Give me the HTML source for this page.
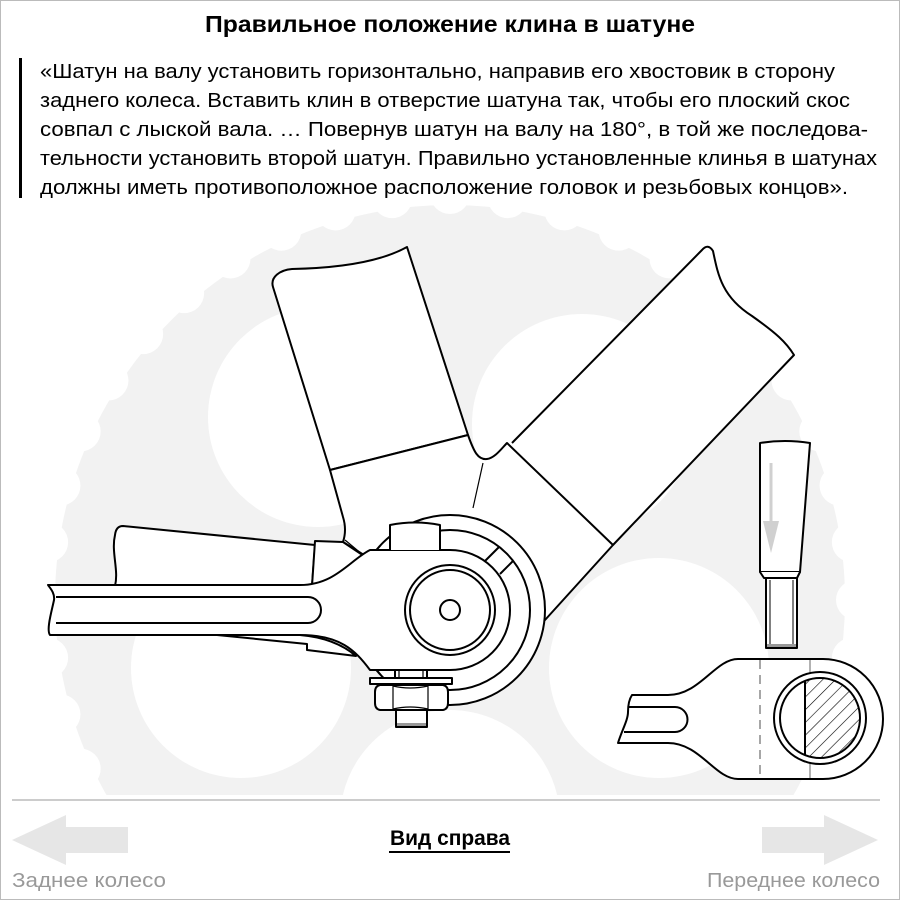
<!DOCTYPE html>
<html><head><meta charset="utf-8"><style>
html,body{margin:0;padding:0;background:#fff;width:900px;height:900px;overflow:hidden}
svg{display:block}
text{font-family:"Liberation Sans","DejaVu Sans",sans-serif}
</style></head><body>
<svg width="900" height="900" viewBox="0 0 900 900" xmlns="http://www.w3.org/2000/svg">
<defs>
<clipPath id="cl"><rect x="0" y="200" width="900" height="595"/></clipPath>
<clipPath id="hc"><rect x="805" y="670" width="80" height="100"/></clipPath>
<pattern id="hatch" patternUnits="userSpaceOnUse" width="9" height="9" patternTransform="rotate(45)">
<line x1="0" y1="0" x2="0" y2="9" stroke="#000" stroke-width="1.2"/></pattern>
</defs>
<rect x="0.5" y="0.5" width="899" height="899" fill="#fff" stroke="#bbb"/>

<!-- sprocket -->
<g clip-path="url(#cl)">
<circle cx="450" cy="600" r="395" fill="#f2f2f2"/>
<circle cx="450" cy="600" r="406" fill="none" stroke="#fff" stroke-width="40" stroke-linecap="round" stroke-dasharray="0 57.97"/>
<circle cx="318" cy="417" r="110" fill="#fff"/>
<circle cx="582" cy="424" r="110" fill="#fff"/>
<circle cx="659" cy="668" r="110" fill="#fff"/>
<circle cx="241" cy="668" r="110" fill="#fff"/>
<circle cx="450" cy="820" r="110" fill="#fff"/>
</g>

<!-- text -->
<text x="450" y="32" text-anchor="middle" font-size="23" font-weight="bold" textLength="490" lengthAdjust="spacingAndGlyphs">Правильное положение клина в шатуне</text>
<rect x="19" y="58" width="3" height="140" fill="#000"/>
<g font-size="20.5">
<text x="40" y="78" textLength="795" lengthAdjust="spacingAndGlyphs">«Шатун на валу установить горизонтально, направив его хвостовик в сторону</text>
<text x="40" y="107" textLength="810" lengthAdjust="spacingAndGlyphs">заднего колеса. Вставить клин в отверстие шатуна так, чтобы его плоский скос</text>
<text x="40" y="136" textLength="828" lengthAdjust="spacingAndGlyphs">совпал с лыской вала. … Повернув шатун на валу на 180°, в той же последова-</text>
<text x="40" y="165" textLength="837" lengthAdjust="spacingAndGlyphs">тельности установить второй шатун. Правильно установленные клинья в шатунах</text>
<text x="40" y="194" textLength="808" lengthAdjust="spacingAndGlyphs">должны иметь противоположное расположение головок и резьбовых концов».</text>
</g>

<g fill="#fff" stroke="#000" stroke-width="2" stroke-linejoin="round">
<!-- chainstay -->
<path d="M123,526 L315,545 L312,586 L115,586 C119,570 111,552 115,535 Q116,526 123,526 Z"/>
<!-- seat tube -->
<path d="M273,287 C270,277 280,270 292,269 C340,268 380,262 407,247 L468,435 L330,470 Z"/>
<!-- down tube -->
<path d="M613,545 L794,355 C786,342 776,333 752,316 C722,297 718,275 713,251 Q708,243 702,250 L512,443"/>
<!-- lugs -->
<path d="M330,470 L468,435 C474,452 478,460 487,459 C495,458 502,448 507,443 L613,545 L545,620 L450,640 L372,560 L343,542 Q347,530 343,517 Z"/>
<path d="M315,541 L343,542 L370,560 L340,588 L312,586 Z"/>
<path d="M217,635 L307,644 L307,650 L356,656 Q335,638 300,635 Z"/>
<!-- bottom bracket rings -->
<circle cx="450" cy="610" r="95"/>
<circle cx="450" cy="610" r="80"/>
</g>
<g stroke="#000" stroke-width="1.2">
<line x1="483" y1="463" x2="473" y2="508"/>
<line x1="345" y1="540" x2="363" y2="555"/>
<line x1="377" y1="670" x2="385" y2="680"/>
</g>
<g stroke="#000" stroke-width="2">
<line x1="485" y1="561" x2="499" y2="547"/>
<line x1="500" y1="574" x2="513" y2="561"/>
</g>

<!-- crank arm -->
<g fill="#fff" stroke="#000" stroke-width="2" stroke-linejoin="round">
<path d="M48,585 L300,585 C335,585 350,560 370,550 L450,550 A60,60 0 0 1 450,670 L370,670 C355,650 340,635 300,635 L50,635 C46,630 52,610 54,600 C55,593 50,588 48,585 Z"/>
<path d="M56,597 L308,597 A13,13 0 0 1 308,623 L56,623" fill="none"/>
<circle cx="450" cy="610" r="45"/>
<circle cx="450" cy="610" r="40"/>
<circle cx="450" cy="610" r="10"/>
<path d="M390,550 L390,525 Q415,520 440,525 L440,550"/>
<rect x="395" y="670" width="32" height="9"/>
<rect x="370" y="678" width="82" height="6"/>
<rect x="396" y="709" width="31" height="18"/>
<path d="M380,685 L443,685 Q448,686 448,692 L448,703 Q448,709 443,710 L380,710 Q375,709 375,703 L375,692 Q375,686 380,685 Z"/>
</g>
<g stroke="#000" stroke-width="1.2" fill="none">
<line x1="393" y1="686" x2="393" y2="709"/><line x1="428" y1="686" x2="428" y2="709"/>
<path d="M393,686 Q410,690 428,686 M393,709 Q410,705 428,709"/>
<line x1="399" y1="671" x2="399" y2="678"/><line x1="423" y1="671" x2="423" y2="678"/>
</g>
<rect x="397" y="723" width="29" height="3" fill="#999"/>

<!-- right detail: cotter -->
<g fill="#fff" stroke="#000" stroke-width="2" stroke-linejoin="round">
<path d="M760,443 Q785,439 810,443 L800,572 L760,572 Z"/>
<path d="M760,572 L764,578 L797,578 L800,572"/>
<rect x="766" y="578" width="31" height="70"/>
</g>
<g stroke="#000" stroke-width="1"><line x1="770" y1="580" x2="770" y2="646"/><line x1="793" y1="580" x2="793" y2="646"/></g>
<rect x="767" y="644" width="29" height="3" fill="#999"/>
<line x1="771" y1="463" x2="771" y2="524" stroke="#d0d0d0" stroke-width="3"/>
<polygon points="763,521 779,521 771,553" fill="#d0d0d0"/>

<!-- right detail: crank section -->
<g fill="#fff" stroke="#000" stroke-width="2" stroke-linejoin="round">
<path d="M632,695 L668,695 C700,695 715,659 738,659 L823,659 A60,60 0 0 1 823,779 L738,779 C715,779 700,743 668,743 L618,743 C622,730 628,720 628,712 C628,703 630,698 632,695 Z"/>
<path d="M628,707 L675,707 A12.5,12.5 0 0 1 675,732 L624,732" fill="none"/>
</g>
<line x1="760" y1="660" x2="760" y2="778" stroke="#888" stroke-width="1.5" stroke-dasharray="9 6"/>
<line x1="810" y1="660" x2="810" y2="778" stroke="#999" stroke-width="1.5"/>
<circle cx="820" cy="718" r="46" fill="#fff" stroke="#000" stroke-width="2"/>
<circle cx="820" cy="718" r="40" fill="#fff" stroke="#000" stroke-width="2"/>
<circle cx="820" cy="718" r="40" fill="url(#hatch)" clip-path="url(#hc)"/>
<line x1="805" y1="681" x2="805" y2="755" stroke="#000" stroke-width="2"/>

<!-- bottom -->
<line x1="12" y1="800" x2="880" y2="800" stroke="#ccc" stroke-width="2"/>
<polygon points="12,840 66,815 66,827 128,827 128,853 66,853 66,865" fill="#e6e6e6"/>
<polygon points="878,840 824,815 824,827 762,827 762,853 824,853 824,865" fill="#e6e6e6"/>
<text x="450" y="845" text-anchor="middle" font-size="21" font-weight="bold" textLength="120" lengthAdjust="spacingAndGlyphs">Вид справа</text>
<line x1="389" y1="852" x2="510" y2="852" stroke="#000" stroke-width="2"/>
<text x="12" y="887" font-size="20" fill="#999" textLength="154" lengthAdjust="spacingAndGlyphs">Заднее колесо</text>
<text x="880" y="887" font-size="20" fill="#999" text-anchor="end" textLength="173" lengthAdjust="spacingAndGlyphs">Переднее колесо</text>
</svg>
</body></html>
